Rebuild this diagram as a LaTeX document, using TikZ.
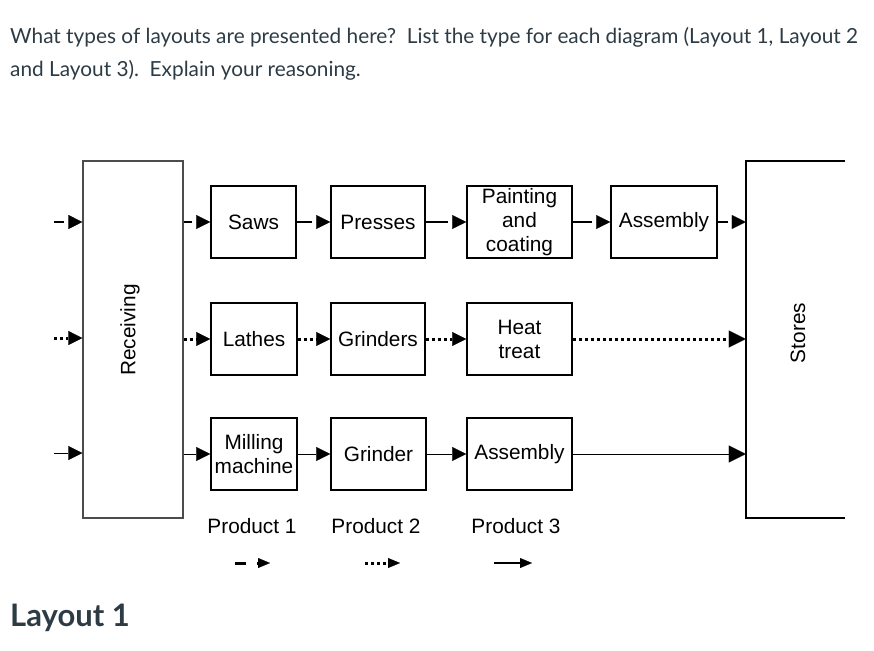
\documentclass[tikz,border=0pt]{standalone}
\usepackage{fontspec}
\setmainfont{Liberation Sans}
\newfontfamily\latofont{Lato}
\usetikzlibrary{arrows.meta}
\definecolor{canvastext}{HTML}{2D3B45}
\tikzstyle{machine}=[draw,line width=1.6pt,minimum height=72pt,inner sep=1pt,align=center,font=\fontsize{20.8}{24}\selectfont]
% product 1: solid line that stops short of its arrow tip
\tikzstyle{flowone}=[line width=2.4pt,shorten >=18pt,
	postaction={draw,shorten >=0pt,dash pattern=on 0pt off 2000pt,-{Triangle[length=14pt,width=14pt,line width=0.1pt]}}]
\tikzstyle{flowtwo}=[line width=3pt,dash pattern=on 3pt off 3pt,-{Triangle[length=14pt,width=14pt,line width=0.1pt]}]
\tikzstyle{flowthree}=[line width=1pt,-{Triangle[length=14pt,width=14pt,line width=0.1pt]}]
\tikzstyle{bigtip}=[-{Triangle[length=17pt,width=17pt,line width=0.1pt]}]
\tikzstyle{product}=[font=\fontsize{20.8}{24}\selectfont]

\begin{document}
\begin{tikzpicture}[x=1pt,y=-1pt]
	\useasboundingbox (0,0) rectangle (874,650);
	% question text
	\node[anchor=base west,align=left,text=canvastext,inner sep=0pt,
		font=\latofont\fontsize{20.8}{33}\selectfont] (question) at (10,77)
		{What types of layouts are presented here?\ \ List the type for each diagram (Layout 1, Layout 2\\
		and Layout 3).\ \ Explain your reasoning.};
	\node[anchor=base west,inner sep=0pt,text=canvastext,
		font=\latofont\bfseries\fontsize{31}{36}\selectfont] (layout) at (10,626) {Layout 1};
	% receiving and stores
	\node[draw=black!70,line width=1.3pt,minimum width=100pt,minimum height=357pt] (recv) at (133,339.5) {};
	\node[rotate=90,product] (recvlabel) at (130,330) {Receiving};
	\node[minimum width=99pt,minimum height=357pt] (stores) at (795.5,339.5) {};
	\draw[line width=1.8pt] (stores.north east) -- (stores.north west) -- (stores.south west) -- (stores.south east);
	\node[rotate=90,product] (storeslabel) at (798,333) {Stores};
	% machines, one row for each product
	\node[machine,minimum width=85pt] (saws) at (253.5,222) {Saws};
	\node[machine,minimum width=94pt] (presses) at (378,222) {Presses};
	\node[machine,minimum width=105pt] (paint) at (519.5,222) {Painting\\and\\coating};
	\node[machine,minimum width=106pt] (assyone) at (664,222) {Assembly};
	\node[machine,minimum width=86pt] (lathes) at (254,339) {Lathes};
	\node[machine,minimum width=94pt] (grinders) at (378,339) {Grinders};
	\node[machine,minimum width=105pt] (heat) at (519.5,339) {Heat\\treat};
	\node[machine,minimum width=86pt] (milling) at (254,454) {Milling\\machine};
	\node[machine,minimum width=95pt] (grinder) at (378.5,454) {Grinder};
	\node[machine,minimum width=105pt] (assythree) at (519.5,454) {Assembly};
	\coordinate (inone) at (54,222);
	\coordinate (intwo) at (54,338);
	\coordinate (inthree) at (54,453);
	% product 1
	\draw[flowone] (inone) -- (inone -| recv.west);
	\draw[flowone] (recv.east |- saws) -- (saws);
	\draw[flowone] (saws) -- (presses);
	\draw[flowone] (presses) -- (paint);
	\draw[flowone] (paint) -- (assyone);
	\draw[flowone] (assyone) -- (assyone -| stores.west);
	% product 2
	\draw[flowtwo] (intwo) -- (intwo -| recv.west);
	\draw[flowtwo] (recv.east |- lathes) -- (lathes);
	\draw[flowtwo] (lathes) -- (grinders);
	\draw[flowtwo] (grinders) -- (heat);
	\draw[flowtwo,bigtip] (heat) -- (heat -| stores.west);
	% product 3
	\draw[flowthree] (inthree) -- (inthree -| recv.west);
	\draw[flowthree] (recv.east |- milling) -- (milling);
	\draw[flowthree] (milling) -- (grinder);
	\draw[flowthree] (grinder) -- (assythree);
	\draw[flowthree,bigtip] (assythree) -- (assythree -| stores.west);
	% legend
	\node[product] (prodone) at (252,526) {Product 1};
	\node[product] (prodtwo) at (376,526) {Product 2};
	\node[product] (prodthree) at (516,526) {Product 3};
	\coordinate (legonea) at (235,563);
	\coordinate (legoneb) at (270,563);
	\coordinate (legtwoa) at (365,563);
	\coordinate (legtwob) at (400,563);
	\coordinate (legthreea) at (494,563);
	\coordinate (legthreeb) at (532,563);
	\draw[line width=3pt,dash pattern=on 11pt off 11pt,-{Triangle[length=12pt,width=10pt,line width=0.1pt]}] (legonea) -- (legoneb);
	\draw[line width=3pt,dash pattern=on 3pt off 3pt,-{Triangle[length=12pt,width=10pt,line width=0.1pt]}] (legtwoa) -- (legtwob);
	\draw[line width=1.8pt,-{Triangle[length=12pt,width=10pt,line width=0.1pt]}] (legthreea) -- (legthreeb);
\end{tikzpicture}
\end{document}
